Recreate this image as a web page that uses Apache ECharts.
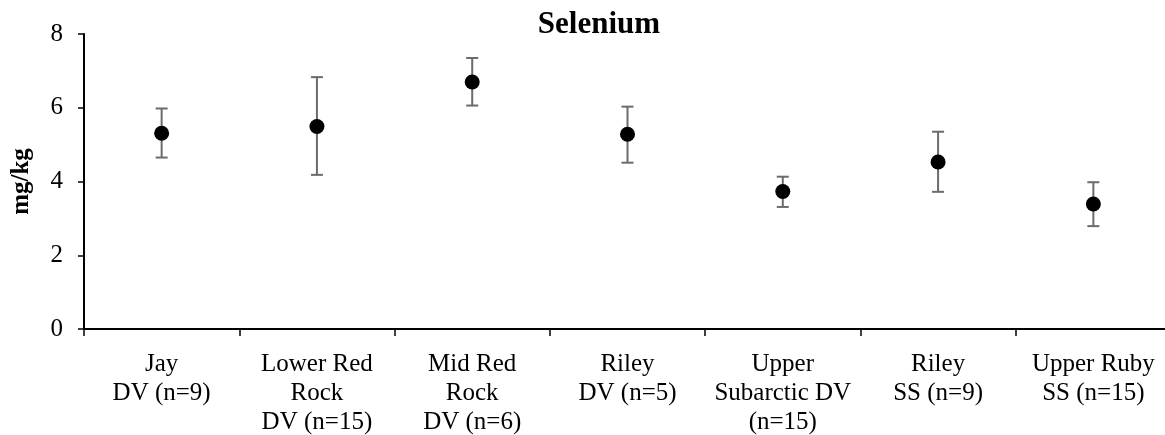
<!DOCTYPE html>
<html><head><meta charset="utf-8">
<script src="https://cdn.jsdelivr.net/npm/echarts@6/dist/echarts.min.js"></script>
<style>html,body{margin:0;padding:0;background:#fff}#c{width:1165px;height:435px}</style>
</head><body><div id="c"></div>
<script>
const categories = ["Jay\nDV (n=9)", "Lower Red\nRock\nDV (n=15)", "Mid Red\nRock\nDV (n=6)", "Riley\nDV (n=5)", "Upper\nSubarctic DV\n(n=15)", "Riley\nSS (n=9)", "Upper Ruby\nSS (n=15)"];
const means = [5.31, 5.49, 6.70, 5.28, 3.73, 4.53, 3.39];
const lower = [4.65, 4.18, 6.06, 4.51, 3.31, 3.72, 2.79];
const upper = [5.98, 6.83, 7.35, 6.03, 4.13, 5.35, 3.98];
const yTicks = [0, 2, 4, 6, 8];

const font = '"Liberation Serif","Times New Roman",serif';
const chart = echarts.init(document.getElementById('c'));
chart.setOption({
  animation: false,
  title: { text: 'Selenium', left: 594, textAlign: 'center', top: 4,
    textStyle: { fontFamily: font, fontWeight: 'bold', fontSize: 31, color: '#000' } },
  grid: { left: 84, top: 34, width: 1087, height: 295, containLabel: false, outerBoundsMode: 'none' },
  xAxis: {
    type: 'category', data: categories, boundaryGap: true,
    axisLine: { lineStyle: { color: '#000', width: 2 } },
    axisTick: { show: true, alignWithLabel: false, length: 7, lineStyle: { color: '#000', width: 1.5 } },
    axisLabel: { interval: 0, margin: 21, fontFamily: font, fontSize: 25, color: '#000', lineHeight: 29 }
  },
  yAxis: {
    type: 'value', min: yTicks[0], max: yTicks[yTicks.length - 1], interval: 2,
    name: 'mg/kg', nameLocation: 'middle', nameGap: 50, nameRotate: 90,
    nameTextStyle: { fontFamily: font, fontWeight: 'bold', fontSize: 25, color: '#000' },
    axisLine: { show: true, lineStyle: { color: '#000', width: 2 } },
    axisTick: { show: true, length: 6, lineStyle: { color: '#000', width: 1.5 } },
    splitLine: { show: false },
    axisLabel: { margin: 21, fontFamily: font, fontSize: 25, color: '#000' }
  },
  series: [
    {
      type: 'custom',
      data: means.map((m, i) => [i, lower[i], upper[i]]),
      renderItem: function (params, api) {
        const lo = api.coord([api.value(0), api.value(1)]);
        const hi = api.coord([api.value(0), api.value(2)]);
        const hw = 6;
        const style = { stroke: '#6b6b6b', lineWidth: 2 };
        return { type: 'group', children: [
          { type: 'line', shape: { x1: lo[0], y1: lo[1], x2: hi[0], y2: hi[1] }, style },
          { type: 'line', shape: { x1: lo[0] - hw, y1: lo[1], x2: lo[0] + hw, y2: lo[1] }, style },
          { type: 'line', shape: { x1: hi[0] - hw, y1: hi[1], x2: hi[0] + hw, y2: hi[1] }, style }
        ]};
      },
      z: 1
    },
    {
      type: 'scatter', data: means, symbol: 'circle', symbolSize: 15,
      itemStyle: { color: '#000', opacity: 1 }, z: 3
    }
  ]
});
</script></body></html>
